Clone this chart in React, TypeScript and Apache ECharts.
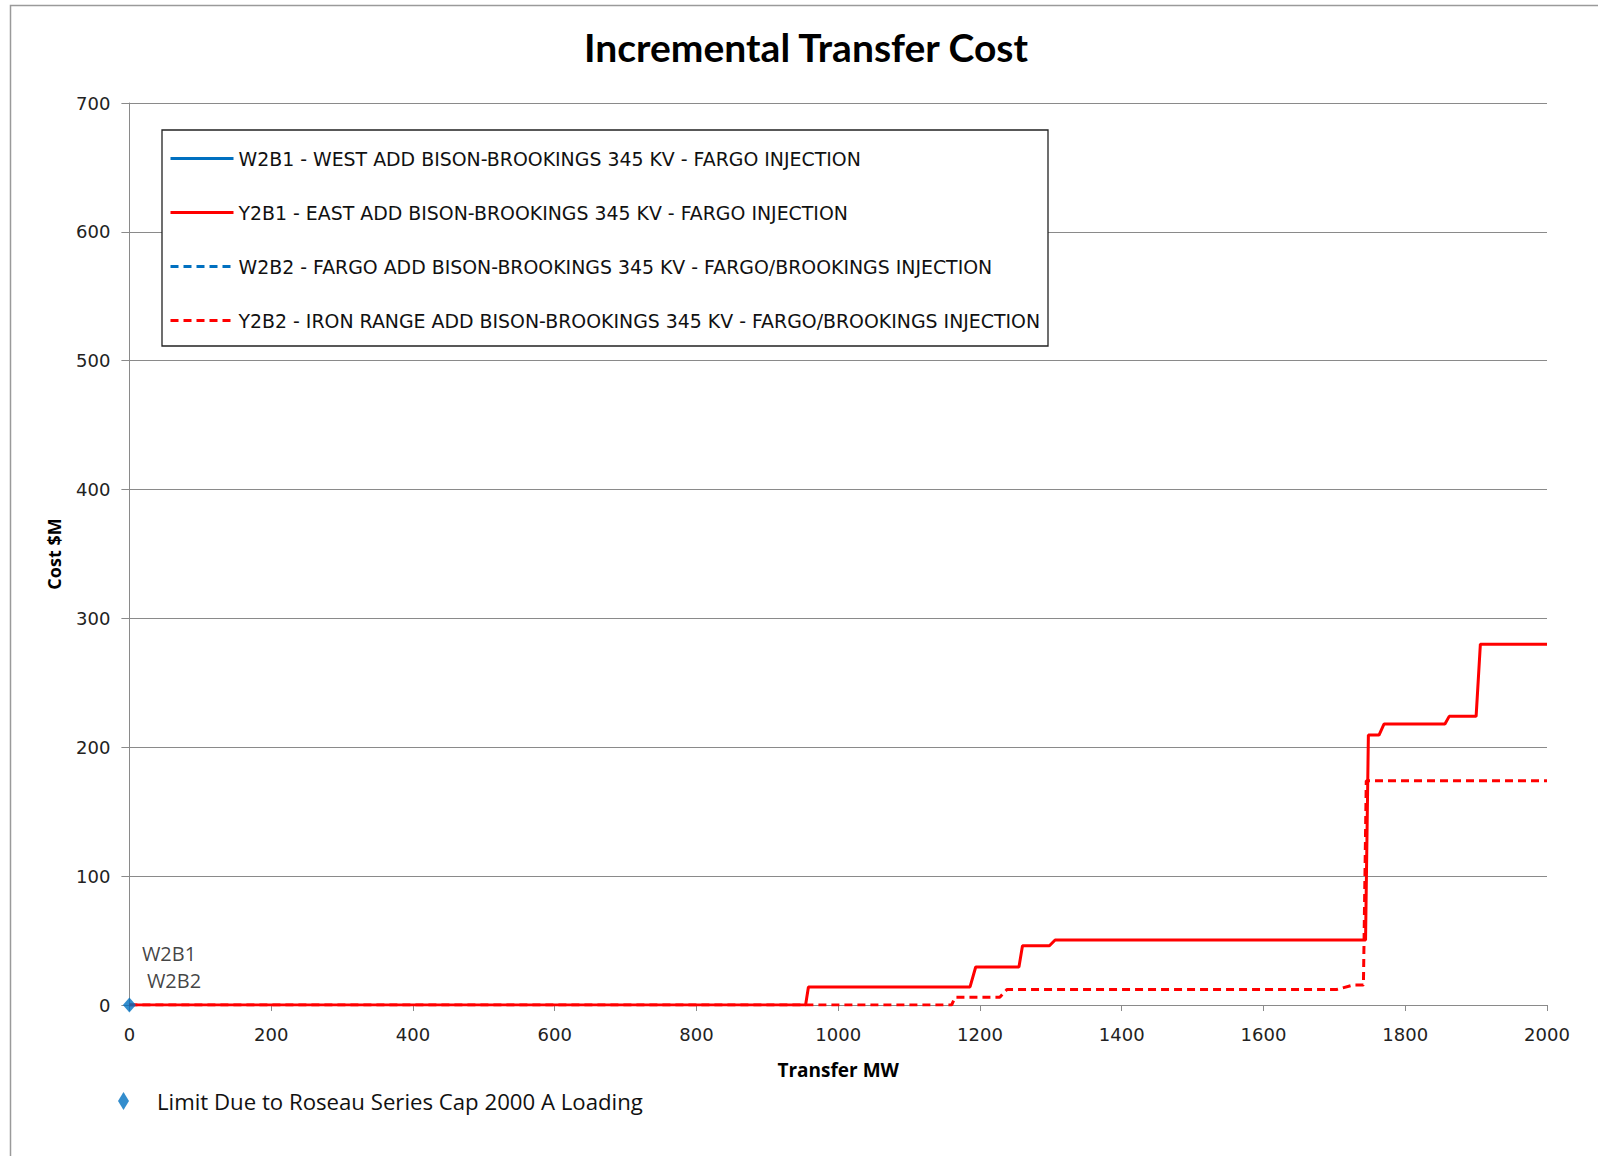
import React, { useEffect, useRef } from "react";
import * as echarts from "echarts";

const titleText = "Incremental Transfer Cost";
const xAxisName = "Transfer MW";
const yAxisName = "Cost $M";

const seriesNames = [
  "W2B1 - WEST ADD BISON-BROOKINGS 345 KV - FARGO INJECTION",
  "Y2B1 - EAST ADD BISON-BROOKINGS 345 KV - FARGO INJECTION",
  "W2B2 - FARGO ADD BISON-BROOKINGS 345 KV - FARGO/BROOKINGS INJECTION",
  "Y2B2 - IRON RANGE ADD BISON-BROOKINGS 345 KV - FARGO/BROOKINGS INJECTION",
];
const limitName = "Limit Due to Roseau Series Cap 2000 A Loading";

// Transfer MW / Cost $M
const w2b1MW = [0];
const w2b1Cost = [0];
const w2b2MW = [0];
const w2b2Cost = [0];
const y2b1MW = [0, 954, 958, 1186, 1194, 1255, 1260, 1298, 1306, 1744, 1748, 1763, 1770, 1856, 1862, 1900, 1906, 2000];
const y2b1Cost = [0, 0, 14, 14, 29.5, 29.5, 46, 46, 50.5, 50.5, 209.5, 209.5, 218, 218, 224, 224, 280, 280];
const y2b2MW = [0, 1160, 1165, 1228, 1238, 1703, 1727, 1741, 1745, 2000];
const y2b2Cost = [0, 0, 6, 6, 12, 12, 15.5, 15.5, 174, 174];
const limitMW = [0];
const limitCost = [0];
const pointLabels = ["W2B1", "W2B2"];

const xMin = 0;
const xMax = 2000;
const xInterval = 200;
const yMin = 0;
const yMax = 700;
const yInterval = 100;

const zip = (xs: number[], ys: number[]) => xs.map((x, i) => [x, ys[i]]);

const BLUE = "#0070C0";
const RED = "#FF0000";
const GRID = "#8a8a8a";

export default function App() {
  const ref = useRef<HTMLDivElement>(null);
  useEffect(() => {
    if (!ref.current) return;
    const chart = echarts.init(ref.current, undefined, { renderer: "svg" });
    const lineBase = (name: string, color: string, data: number[][], dashed: boolean) => ({
      name,
      type: "line",
      data,
      symbol: "none",
      showSymbol: false,
      color,
      lineStyle: { color, width: 3, type: dashed ? [8, 5] : "solid" },
      z: 3,
    });
    chart.setOption({
      animation: false,
      backgroundColor: "#fff",
      title: {
        text: titleText,
        left: 584,
        top: 27,
        padding: 0,
        textStyle: { fontFamily: "Lato", fontWeight: "bold", fontSize: 39, color: "#000" },
      },
      graphic: [
        {
          type: "polyline",
          shape: { points: [[10.5, 1156], [10.5, 5.5], [1598, 5.5]] },
          style: { stroke: "#9a9a9a", lineWidth: 1.5, fill: null },
          silent: true,
        },
        {
          type: "rect",
          z: 3,
          shape: { x: 162, y: 130, width: 886, height: 216 },
          style: { stroke: "#222", lineWidth: 1.3, fill: "#fff" },
          silent: true,
        },
      ],
      legend: [
        {
          data: seriesNames,
          orient: "vertical",
          left: 169,
          top: 149,
          padding: 0,
          itemWidth: 63,
          itemHeight: 18,
          itemGap: 35,
          z: 5,
          itemStyle: { opacity: 0 },
          lineStyle: { width: 3 },
          textStyle: { fontFamily: "DejaVu Sans", fontSize: 18.9, color: "#111" },
        },
        {
          data: [limitName],
          orient: "horizontal",
          left: 118,
          top: 1090,
          padding: 0,
          itemWidth: 11,
          itemHeight: 18,
          icon: "diamond",
          textStyle: { fontFamily: "Open Sans", fontSize: 22.2, color: "#111", padding: [0, 0, 0, 23] },
        },
      ],
      grid: { left: 129.4, right: 51, top: 103, bottom: 151, containLabel: false },
      xAxis: {
        type: "value",
        min: xMin,
        max: xMax,
        interval: xInterval,
        name: xAxisName,
        nameLocation: "middle",
        nameGap: 55,
        nameTextStyle: { fontFamily: "Open Sans", fontWeight: "bold", fontSize: 19, color: "#000" },
        axisLine: { show: true, lineStyle: { color: GRID, width: 1 } },
        axisTick: { show: true, inside: false, length: 6, lineStyle: { color: GRID } },
        axisLabel: {
          margin: 20,
          fontFamily: "DejaVu Sans",
          fontSize: 18,
          color: "#222",
          formatter: (v: number) => String(v),
        },
        splitLine: { show: false },
      },
      yAxis: {
        type: "value",
        min: yMin,
        max: yMax,
        interval: yInterval,
        name: yAxisName,
        nameLocation: "middle",
        nameGap: 66,
        nameTextStyle: { fontFamily: "Open Sans", fontWeight: "bold", fontSize: 18, color: "#000" },
        axisLine: { show: true, lineStyle: { color: GRID, width: 1 } },
        axisTick: { show: true, inside: false, length: 8, lineStyle: { color: GRID } },
        axisLabel: {
          margin: 19,
          fontFamily: "DejaVu Sans",
          fontSize: 18,
          color: "#222",
          formatter: (v: number) => String(v),
        },
        splitLine: { show: true, lineStyle: { color: GRID, width: 1 } },
      },
      series: [
        lineBase(seriesNames[0], BLUE, zip(w2b1MW, w2b1Cost), false),
        lineBase(seriesNames[2], BLUE, zip(w2b2MW, w2b2Cost), true),
        lineBase(seriesNames[3], RED, zip(y2b2MW, y2b2Cost), true),
        lineBase(seriesNames[1], RED, zip(y2b1MW, y2b1Cost), false),
        {
          name: limitName,
          type: "scatter",
          data: zip(limitMW, limitCost),
          symbol: "diamond",
          symbolSize: [13, 15],
          color: BLUE,
          itemStyle: { color: BLUE },
          z: 6,
          label: {
            show: true,
            position: [19, -58],
            align: "left",
            verticalAlign: "top",
            formatter: () => `{a|${pointLabels[0]}}\n{b|${pointLabels[1]}}`,
            rich: {
              a: { fontFamily: "Open Sans", fontSize: 20, color: "#111", lineHeight: 27 },
              b: { fontFamily: "Open Sans", fontSize: 20, color: "#111", lineHeight: 27, padding: [0, 0, 0, 5] },
            },
          },
        },
      ],
    });
    return () => chart.dispose();
  }, []);
  return (
    <div
      ref={ref}
      style={{ position: "fixed", left: 0, top: 0, width: 1598, height: 1156, background: "#fff" }}
    />
  );
}
